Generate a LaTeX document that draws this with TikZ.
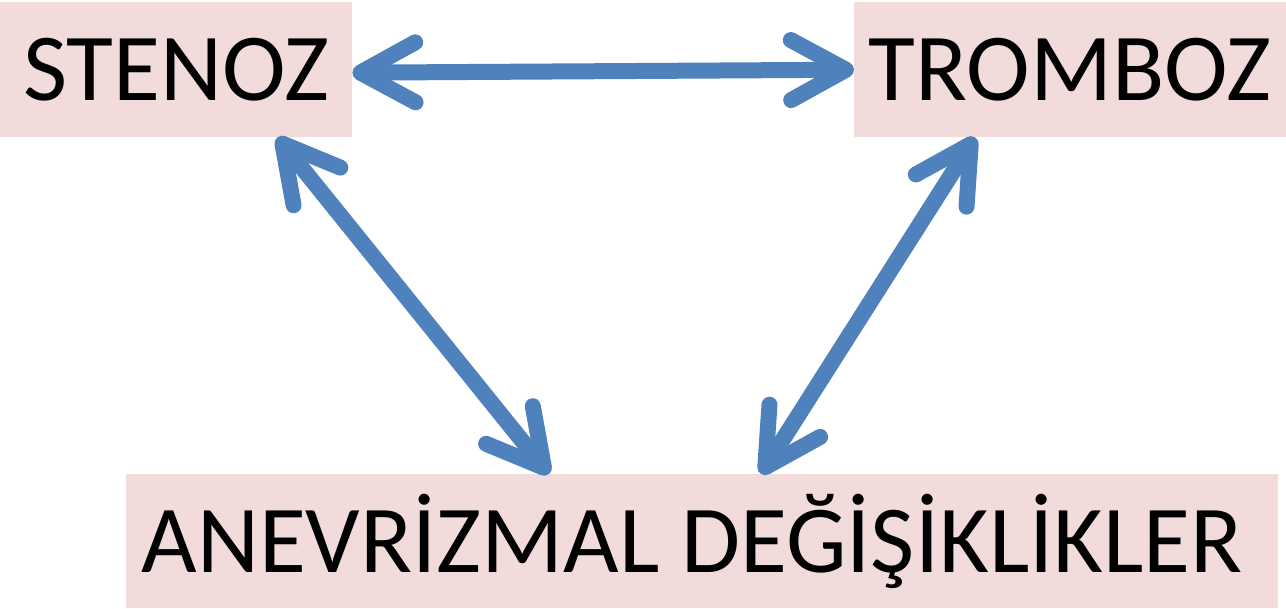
\documentclass[tikz,border=0pt]{standalone}
\usepackage{fontspec}
\setmainfont{Carlito}
\usetikzlibrary{arrows.meta}
\definecolor{boxpink}{HTML}{F2DCDB}
\definecolor{arrowblue}{HTML}{4F81BD}
\begin{document}
\begin{tikzpicture}[x=1pt,y=-1pt,
  termbox/.style={fill=boxpink, draw=none, inner sep=0pt, anchor=north west,
    font=\fontsize{96}{100}\selectfont, text height=62pt, text depth=0pt},
  link/.style={arrowblue, line width=16pt, line cap=round,
    {Straight Barb[length=55pt, width=60pt, round]}-{Straight Barb[length=55pt, width=60pt, round]}}
]
\useasboundingbox (0,0) rectangle (1286,609);
\node[termbox, minimum width=352pt, minimum height=135pt] (sten) at (0,2) {STENOZ};
\node[termbox, minimum width=432pt, minimum height=135pt] (tromb) at (854,2) {TROMBOZ};
\node[termbox, minimum width=1152pt, minimum height=134pt] (anev) at (126,474) {ANEVR\.IZMAL DEĞ\.IŞ\.IKL\.IKLER\kern20pt};
\draw[link] ([yshift=-3pt]sten.east) -- ([yshift=0pt]tromb.west);
\draw[link] ([xshift=-75pt]sten.south east) -- ([xshift=423pt]anev.north west);
\draw[link] ([xshift=121pt]tromb.south west) -- ([xshift=635pt]anev.north west);
\end{tikzpicture}
\end{document}
